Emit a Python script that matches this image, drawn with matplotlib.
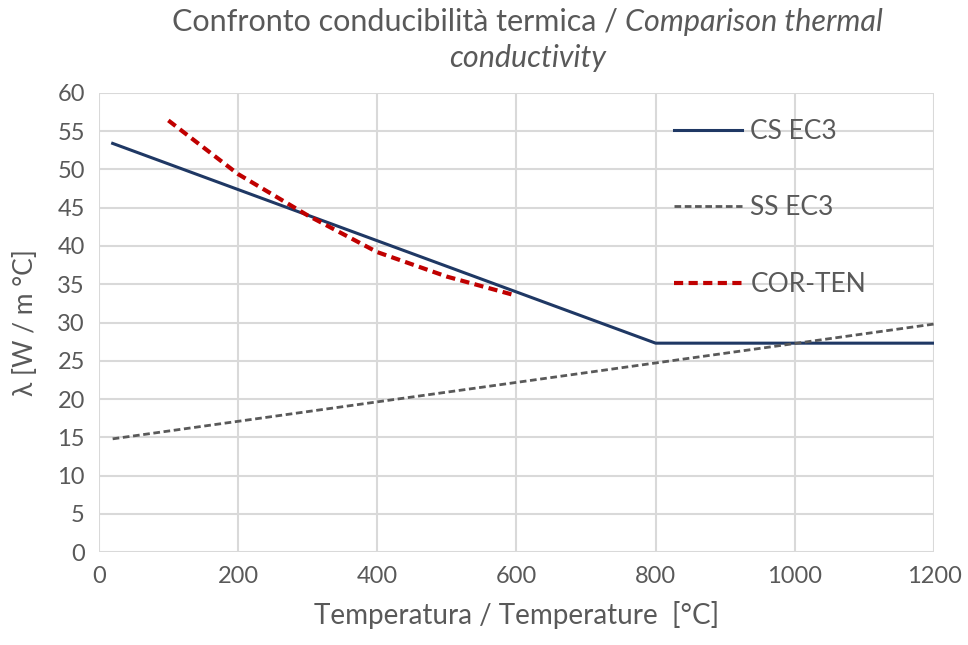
import matplotlib
matplotlib.use("Agg")
import matplotlib.pyplot as plt

# --- data ---
cs_T = [20, 800, 1200]
cs_k = [53.4, 27.3, 27.3]

ss_T = [20, 1200]
ss_k = [14.8, 29.8]

ct_T = [100, 200, 300, 400, 500, 600]
ct_k = [56.4, 49.4, 44.0, 39.2, 36.0, 33.5]

xticks = [0, 200, 400, 600, 800, 1000, 1200]
yticks = list(range(0, 61, 5))

grey = "#595959"
plt.rcParams["font.family"] = ["Lato", "DejaVu Sans"]

fig = plt.figure(figsize=(9.68, 6.45), dpi=100)
ax = fig.add_axes([0.102, 0.144, 0.863, 0.712])

ax.plot(cs_T, cs_k, color="#1F3864", lw=2.2, label="CS EC3", zorder=3)
ax.plot(ss_T, ss_k, color=grey, lw=2.0, ls=(0, (2.4, 1.3)), label="SS EC3", zorder=3)
ax.plot(ct_T, ct_k, color="#C00000", lw=3.0, ls=(0, (2.2, 1.3)), label="COR-TEN", zorder=4)

ax.set_xlim(0, 1200)
ax.set_ylim(0, 60)
ax.set_xticks(xticks)
ax.set_yticks(yticks)
ax.grid(True, color="#D9D9D9", lw=1.5)
ax.set_axisbelow(True)
for s in ax.spines.values():
    s.set_visible(False)
ax.tick_params(length=0, labelsize=17, colors=grey, pad=10)

ax.set_xlabel("Temperatura / Temperature  [°C]", fontsize=20, color=grey, labelpad=10)
ax.set_ylabel("λ [W / m °C]", fontsize=19, color=grey, labelpad=14)

# title: Italian part upright, English part italic, whole line centred
t_it = fig.text(0, 0.966, "Confronto conducibilità termica / ", fontsize=22,
                color=grey, ha="left", va="center")
t_en = fig.text(0, 0.966, "Comparison thermal", fontsize=22, color=grey,
                style="italic", ha="left", va="center")
r = fig.canvas.get_renderer()
w_it = t_it.get_window_extent(r).width / fig.bbox.width
w_en = t_en.get_window_extent(r).width / fig.bbox.width
x0 = 0.545 - (w_it + w_en) / 2
t_it.set_x(x0)
t_en.set_x(x0 + w_it)
fig.text(0.545, 0.91, "conductivity", fontsize=22, color=grey,
         style="italic", ha="center", va="center")

ax.legend(loc="upper left", bbox_to_anchor=(0.66, 0.995), frameon=False,
          fontsize=19, labelcolor=grey, labelspacing=1.95,
          handlelength=2.6, handletextpad=0.3)

fig.savefig("out.png", dpi=100)
